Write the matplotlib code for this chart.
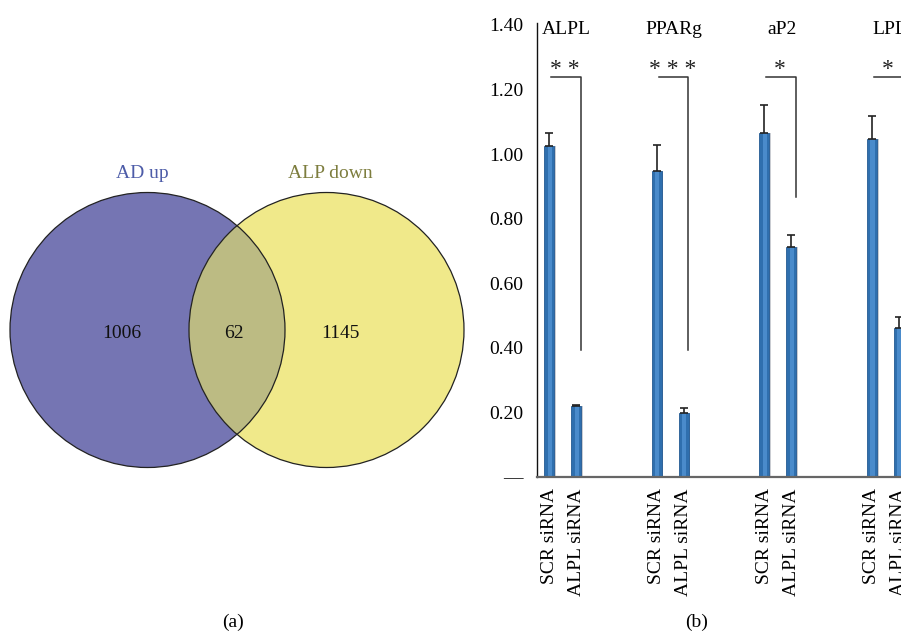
import numpy as np
import matplotlib.pyplot as plt
from matplotlib.patches import Circle

plt.rcParams['font.family'] = ['Liberation Serif', 'DejaVu Serif']

# venn counts (a)
set_names = ['AD up', 'ALP down']
venn_counts = [1006, 62, 1145]

# bar data (b)
genes = ['ALPL', 'PPARg', 'aP2', 'LPL']
groups = ['SCR siRNA', 'ALPL siRNA']
scr_mean = [1.026, 0.948, 1.064, 1.048]
scr_err = [0.038, 0.080, 0.088, 0.069]
alpl_mean = [0.220, 0.199, 0.713, 0.462]
alpl_err = [0.003, 0.015, 0.038, 0.033]
stars = ['**', '***', '*', '*']
bracket_top = [1.24, 1.24, 1.24, 1.24]
bracket_low = [0.393, 0.393, 0.867, 0.867]

fig = plt.figure(figsize=(9.01, 6.35), dpi=100)

# ---- (a) venn ----
ax0 = fig.add_axes([0, 0, 480 / 901, 1])
ax0.set_xlim(0, 480)
ax0.set_ylim(635, 0)
ax0.axis('off')
r = 137.5
c1 = (147.5, 330)
c2 = (326.5, 330)
ax0.add_patch(Circle(c1, r, facecolor='#7575b3', edgecolor='none', zorder=1))
ax0.add_patch(Circle(c2, r, facecolor='#f0e98a', edgecolor='none', zorder=1))
# overlap: clip a copy of circle 2 to circle 1
ov = Circle(c2, r, facecolor='#bcbb83', edgecolor='none', zorder=2)
ax0.add_patch(ov)
clip = Circle(c1, r, transform=ax0.transData)
ov.set_clip_path(clip)
for c in (c1, c2):
    ax0.add_patch(Circle(c, r, facecolor='none', edgecolor='#222222', lw=0.9, zorder=3))
ax0.text(142, 174, set_names[0], color='#4d5ca8', fontsize=14, ha='center', va='center')
ax0.text(330, 174, set_names[1], color='#7d7d3e', fontsize=14, ha='center', va='center')
for x, n in zip([122, 234, 340], venn_counts):
    ax0.text(x, 334, str(n), fontsize=14, ha='center', va='center', color='#111111', zorder=4)
ax0.text(233, 622, '(a)', fontsize=14, ha='center', va='center')

# ---- (b) bars ----
ax = fig.add_axes([537 / 901, 1 - 477 / 635, 1 - 537 / 901, (477 - 23) / 635])
x_scr = np.arange(len(genes)) * 4
x_alpl = x_scr + 1
w = 0.38
for xs, ys in ((x_scr, scr_mean), (x_alpl, alpl_mean)):
    # faint shadow, main bar, lighter centre strip
    ax.bar(xs + 0.06, ys, width=w, color='#c9ccd2', zorder=1)
    ax.bar(xs, ys, width=w, color='#2f6fae', edgecolor='#245a92', linewidth=0.6, zorder=2)
    ax.bar(xs + 0.02, ys, width=w * 0.4, color='#4a8bcb', linewidth=0, zorder=2)
ax.errorbar(x_scr, scr_mean, yerr=[np.zeros(4), scr_err], fmt='none',
            ecolor='#222222', elinewidth=1.2, capsize=2.8, capthick=1.2, zorder=3)
ax.errorbar(x_alpl, alpl_mean, yerr=[np.zeros(4), alpl_err], fmt='none',
            ecolor='#222222', elinewidth=1.2, capsize=2.8, capthick=1.2, zorder=3)

for i in range(len(genes)):
    xr = x_alpl[i] + 0.18
    xl = x_scr[i] + 0.07
    ax.plot([xl, xr, xr], [bracket_top[i], bracket_top[i], bracket_low[i]],
            color='#333333', lw=1.1, zorder=3, clip_on=False)
    ax.text((xl + xr) / 2 - 0.05, bracket_top[i] - 0.012, ' '.join(stars[i]), ha='center',
            va='bottom', fontsize=17, color='#222222')
    ax.text(x_scr[i] + 0.65, 1.385, genes[i], ha='center', va='center', fontsize=14, clip_on=False)

ax.set_xlim(-0.45, 13.08)
ax.set_ylim(0, 1.406)
ax.set_yticks([0, 0.2, 0.4, 0.6, 0.8, 1.0, 1.2, 1.4])
ax.set_yticklabels(['—', '0.20', '0.40', '0.60', '0.80', '1.00', '1.20', '1.40'], fontsize=14)
ax.tick_params(axis='y', length=0, pad=10)
xt = np.ravel(np.column_stack([x_scr, x_alpl]))
ax.set_xticks(xt)
ax.set_xticklabels(groups * len(genes), rotation=90, fontsize=14, va='top')
ax.tick_params(axis='x', length=0, pad=8)
for s in ['top', 'right']:
    ax.spines[s].set_visible(False)
ax.spines['left'].set_color('#111111')
ax.spines['left'].set_linewidth(1.0)
ax.spines['bottom'].set_color('#666666')
ax.spines['bottom'].set_linewidth(1.6)

fig.text(697 / 901, 1 - 622 / 635, '(b)', fontsize=14, ha='center', va='center')

fig.savefig('out.png', dpi=100)
